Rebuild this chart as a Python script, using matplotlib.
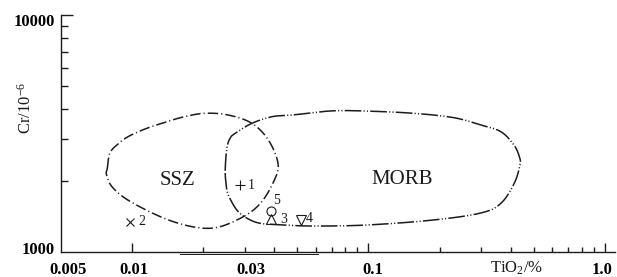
import numpy as np
import matplotlib
matplotlib.use("Agg")
import matplotlib.pyplot as plt
from matplotlib.transforms import ScaledTranslation
from matplotlib.ticker import FixedLocator, NullFormatter

# ---------------- data ----------------
# SSZ field boundary (TiO2 %, Cr ppm), closed loop
ssz_tio2 = [0.00789, 0.00809, 0.00875, 0.00964, 0.01138, 0.0134, 0.0165, 0.0204,
            0.0256, 0.0322, 0.0378, 0.0415, 0.0401, 0.0350, 0.0288, 0.0215,
            0.0150, 0.01016, 0.00836, 0.00783]
ssz_cr = [2262, 2617, 2856, 3065, 3304, 3491, 3712, 3848,
          3784, 3491, 2969, 2375, 2013, 1605, 1388, 1259,
          1342, 1605, 1857, 2113]

# MORB field boundary, closed loop
morb_tio2 = [0.02484, 0.02525, 0.02608, 0.02739, 0.0322, 0.0392, 0.0476, 0.0692,
             0.0955, 0.1555, 0.2298, 0.299, 0.3634, 0.4125, 0.4353, 0.4374,
             0.4138, 0.3634, 0.299, 0.189, 0.099, 0.0587, 0.04375, 0.0350,
             0.0307, 0.0278, 0.0256, 0.02508]
morb_cr = [2218, 2748, 3027, 3168, 3491, 3724, 3784, 3936,
           3936, 3848, 3688, 3435, 3218, 2828, 2517, 2328,
           1950, 1605, 1461, 1365, 1300, 1287, 1300, 1321,
           1388, 1504, 1740, 1917]

# samples
sample_ids = ["1", "2", "3", "4", "5"]
sample_tio2 = [0.0287, 0.00983, 0.0389, 0.0517, 0.0389]
sample_cr = [1917, 1342, 1378, 1365, 1486]

field_names = ["SSZ", "MORB"]
field_label_tio2 = [0.0156, 0.1384]
field_label_cr = [1994, 2013]

xtick_vals = [0.005, 0.01, 0.03, 0.1, 1.0]
xtick_labels = ["0.005", "0.01", "0.03", "0.1", "1.0"]
xminor_vals = [0.02, 0.04, 0.05, 0.06, 0.07, 0.08, 0.09,
               0.2, 0.3, 0.4, 0.5, 0.6, 0.7, 0.8, 0.9]
ytick_vals = [1000, 10000]
ytick_labels = ["1000", "10000"]
yminor_vals = [2000, 3000, 4000, 5000, 6000, 7000, 8000, 9000]

# ---------------- style ----------------
plt.rcParams.update({
    "font.family": ["Liberation Serif", "DejaVu Serif"],
    "mathtext.fontset": "custom",
    "mathtext.rm": "Liberation Serif",
    "mathtext.it": "Liberation Serif:italic",
    "mathtext.bf": "Liberation Serif:bold",
    "mathtext.default": "rm",
    "lines.scale_dashes": False,
})
INK = "#1c1c1c"


def smooth_closed(xs, ys, n=24):
    P = np.column_stack([np.log10(xs), np.log10(ys)])
    N = len(P)
    t = np.linspace(0, 1, n, endpoint=False)[:, None]
    segs = []
    for i in range(N):
        p0, p1, p2, p3 = P[i - 1], P[i], P[(i + 1) % N], P[(i + 2) % N]
        seg = 0.5 * ((2 * p1) + (-p0 + p2) * t + (2 * p0 - 5 * p1 + 4 * p2 - p3) * t ** 2
                     + (-p0 + 3 * p1 - 3 * p2 + p3) * t ** 3)
        segs.append(seg)
    segs.append(P[:1])
    out = 10 ** np.vstack(segs)
    return out[:, 0], out[:, 1]


fig = plt.figure(figsize=(6.17, 2.77), dpi=100)
W, H = 617, 277
ax = fig.add_axes([60.5 / W, 25 / H, (615 - 60.5) / W, 237 / H])
ax.set_xscale("log")
ax.set_yscale("log")
ax.set_xlim(0.005, 1.103)
ax.set_ylim(1000, 10000)

# fields
sx, sy = smooth_closed(ssz_tio2, ssz_cr)
l1, = ax.plot(sx, sy, color=INK, lw=1.1)
l1.set_dashes((7.5, 2.2, 0.8, 2.2))
l1.set_dash_capstyle("butt")
mx, my = smooth_closed(morb_tio2, morb_cr)
l2, = ax.plot(mx, my, color=INK, lw=1.1)
l2.set_dashes((12, 1.6, 0.8, 1.6, 0.8, 1.6))
l2.set_dash_capstyle("butt")

# field names
for name, fx, fy in zip(field_names, field_label_tio2, field_label_cr):
    ax.text(fx, fy, name, fontsize=15, ha="center", va="center", color=INK)

# samples
markers = ["+", "x", "^", "v", "o"]
msizes = [7, 6, 7, 7, 6.5]
label_off = [(11, 0), (12, 0), (12, -1), (9, 1), (5, 11)]
for sid, xv, yv, mk, ms, off in zip(sample_ids, sample_tio2, sample_cr, markers, msizes, label_off):
    ax.plot([xv], [yv], marker=mk, ms=ms, mfc="none", mec=INK, mew=0.8, ls="none")
    ax.annotate(sid, (xv, yv), xytext=off, textcoords="offset pixels",
                fontsize=10, ha="center", va="center", color=INK)

# axes styling
for s in ["top", "right"]:
    ax.spines[s].set_visible(False)
for s in ["left", "bottom"]:
    ax.spines[s].set_linewidth(1.0)
    ax.spines[s].set_color(INK)

# faint doubled stroke under part of the x axis (as in the scanned original)
ax.plot([0.016, 0.061], [1000, 1000], color=INK, lw=0.7, clip_on=False,
        transform=ax.get_xaxis_transform() if False else ax.transData)
ax.lines[-1].set_transform(ax.transData + ScaledTranslation(0, -1.6 / 100, fig.dpi_scale_trans))

ax.xaxis.set_major_locator(FixedLocator(xtick_vals))
ax.set_xticklabels(xtick_labels, fontsize=12, fontweight="bold")
ax.xaxis.set_minor_locator(FixedLocator(xminor_vals))
ax.xaxis.set_minor_formatter(NullFormatter())
ax.yaxis.set_major_locator(FixedLocator(ytick_vals))
ax.set_yticklabels(ytick_labels, fontsize=12, fontweight="bold")
ax.yaxis.set_minor_locator(FixedLocator(yminor_vals))
ax.yaxis.set_minor_formatter(NullFormatter())

ax.tick_params(axis="x", which="major", direction="in", length=6.5, width=1.0, color=INK, pad=7)
ax.tick_params(axis="x", which="minor", direction="in", length=3.6, width=1.0, color=INK)
ax.tick_params(axis="y", which="major", direction="in", length=8.6, width=1.0, color=INK, pad=4)
ax.tick_params(axis="y", which="minor", direction="in", length=5.0, width=1.0, color=INK)

# per-tick adjustments (0.005 has no tick, 0.03 short)
xt = ax.xaxis.get_major_ticks()
xt[0].tick1line.set_markersize(0)
xt[2].tick1line.set_markersize(3.6)
yt = ax.yaxis.get_major_ticks()
yt[0].tick1line.set_markersize(0)

x_label_shift_px = [7.5, 2.5, 6, 4, -2.5]
for lab, dx in zip(ax.get_xticklabels(), x_label_shift_px):
    lab.set_transform(lab.get_transform() + ScaledTranslation(dx / 100, 0, fig.dpi_scale_trans))
ylabs = ax.get_yticklabels()
ylabs[0].set_transform(ylabs[0].get_transform() + ScaledTranslation(0, 4 / 100, fig.dpi_scale_trans))
ylabs[1].set_transform(ylabs[1].get_transform() + ScaledTranslation(0, -5 / 100, fig.dpi_scale_trans))

# axis titles
fig.text(26 / W, 1 - 108 / H, "Cr/10$^{-6}$", rotation=90, fontsize=12,
         ha="center", va="center", color=INK)
fig.text(517 / W, 1 - 268 / H, "TiO$_2$/%", fontsize=12, ha="center", va="center", color=INK)

fig.savefig("out.png", dpi=100)
